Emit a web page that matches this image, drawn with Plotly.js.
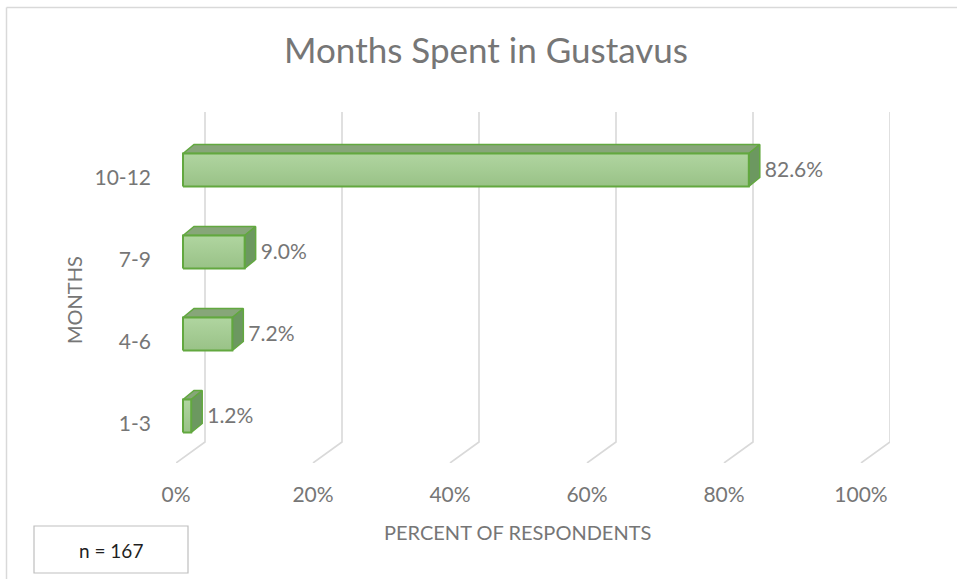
<!DOCTYPE html>
<html>
<head>
<meta charset="utf-8">
<script src="https://cdn.plot.ly/plotly-3.0.1.min.js"></script>
<style>html,body{margin:0;padding:0;background:#fff;}#chart{width:957px;height:579px;}</style>
</head>
<body>
<div id="chart"></div>
<script>
// ---- data ----
const categories = ['1-3', '4-6', '7-9', '10-12'];
const percents = [1.2, 7.2, 9.0, 82.6];
const percentTicks = [0, 20, 40, 60, 80, 100];
const xTitle = 'PERCENT OF RESPONDENTS';
const yTitle = 'MONTHS';
const sampleNote = 'n = 167';

// ---- geometry (pixels -> data units) ----
const W = 957, H = 579;
const L = 176, R = 67, T = 112, B = 116;
const plotW = W - L - R, plotH = H - T - B;
const pxPerX = 6.85;          // front plane: 100% = 685 px
const pxPerY = 82;            // category spacing
const x0px = 183 - L;         // front 0% offset from plot left
const xMin = -x0px / pxPerX, xMax = xMin + plotW / pxPerX;
const yMin = -(H - B - 424) / pxPerY, yMax = 3 + (178 - T) / pxPerY;
const px2x = p => p / pxPerX, px2y = p => p / pxPerY;

const barShift = px2y(8);      // bar centre above label centre
const barHalf = px2y(16.5);
const depthX = px2x(11), depthY = px2y(9);
const wallX = px2x(22);        // back wall offset
const floorY = -(442 - 424) / pxPerY;
const floorFrontX = px2x(-7);

const green = '#62a83f';
const labelGrey = '#767676';
const traces = [];

// gridlines (back wall + floor)
percentTicks.forEach(v => {
  traces.push({
    type: 'scatter', mode: 'lines', hoverinfo: 'skip', showlegend: false,
    x: [v + wallX, v + wallX, v + floorFrontX],
    y: [yMax, floorY, yMin],
    line: {color: '#d9d9d9', width: 1.6}
  });
});

// 3D bars
categories.forEach((c, i) => {
  const v = percents[i];
  const cy = i + barShift;
  const t = cy + barHalf, b = cy - barHalf;
  // top face
  traces.push({
    type: 'scatter', mode: 'lines', fill: 'toself', hoverinfo: 'skip', showlegend: false,
    x: [0, v, v + depthX, depthX, 0], y: [t, t, t + depthY, t + depthY, t],
    fillcolor: '#87a679', line: {color: green, width: 1.5}
  });
  // side face
  traces.push({
    type: 'scatter', mode: 'lines', fill: 'toself', hoverinfo: 'skip', showlegend: false,
    x: [v, v, v + depthX, v + depthX, v], y: [b, t, t + depthY, b + depthY, b],
    fillcolor: '#6c9860', line: {color: green, width: 1.5}
  });
  // front face
  traces.push({
    type: 'scatter', mode: 'lines', fill: 'toself', showlegend: false,
    x: [0, v, v, 0, 0], y: [b, b, t, t, b],
    fillcolor: '#a5cc94',
    fillgradient: {type: 'vertical', colorscale: [[0, '#99c287'], [1, '#b0d5a0']]},
    line: {color: green, width: 2},
    hovertemplate: c + ': %{text}<extra></extra>', text: Array(5).fill(v.toFixed(1) + '%')
  });
});

// data labels
traces.push({
  type: 'scatter', mode: 'text', showlegend: false, hoverinfo: 'skip',
  x: percents.map(v => v + depthX + px2x(5)),
  y: categories.map((c, i) => i + barShift - px2y(2)),
  text: percents.map(v => v.toFixed(1) + '%'),
  textposition: 'middle right',
  textfont: {family: 'Lato, sans-serif', size: 21, color: labelGrey},
  cliponaxis: false
});

// dummy trace for tick-label axis
traces.push({type: 'scatter', x: [0], y: [0], xaxis: 'x2', mode: 'none', hoverinfo: 'skip', showlegend: false});

const fx = p => (p - L) / plotW;
const fy = p => (H - B - p) / plotH;

const layout = {
  width: W, height: H,
  margin: {l: L, r: R, t: T, b: B, pad: 0},
  paper_bgcolor: '#ffffff', plot_bgcolor: 'rgba(0,0,0,0)',
  font: {family: 'Lato, sans-serif', color: labelGrey},
  title: {
    text: 'Months Spent in Gustavus',
    font: {family: 'Lato, sans-serif', size: 35, color: labelGrey},
    x: 486 / W, xref: 'container', xanchor: 'center',
    y: 1 - 51 / H, yref: 'container', yanchor: 'middle'
  },
  xaxis: {
    range: [xMin, xMax], showgrid: false, zeroline: false, showline: false,
    showticklabels: false, ticks: '', fixedrange: true
  },
  xaxis2: {
    overlaying: 'x', side: 'bottom',
    range: [xMin - floorFrontX, xMax - floorFrontX],
    tickvals: percentTicks, ticktext: percentTicks.map(v => v + '%'),
    showgrid: false, zeroline: false, showline: false, ticks: '',
    ticklabelstandoff: 17,
    tickfont: {size: 21, color: labelGrey}, fixedrange: true
  },
  yaxis: {
    range: [yMin, yMax], showgrid: false, zeroline: false, showline: false,
    tickvals: categories.map((c, i) => i), ticktext: categories,
    ticks: '', ticklabelstandoff: 24,
    tickfont: {size: 21, color: labelGrey}, fixedrange: true
  },
  shapes: [
    {type: 'line', xref: 'paper', yref: 'paper', x0: fx(6.5), x1: fx(W), y0: fy(7.5), y1: fy(7.5), line: {color: '#d9d9d9', width: 1.5}},
    {type: 'line', xref: 'paper', yref: 'paper', x0: fx(6.5), x1: fx(6.5), y0: fy(7.5), y1: fy(H), line: {color: '#d9d9d9', width: 1.5}},
    {type: 'rect', xref: 'paper', yref: 'paper', x0: fx(34), x1: fx(188), y0: fy(526), y1: fy(573), line: {color: '#bfbfbf', width: 1.2}, fillcolor: '#ffffff'}
  ],
  annotations: [
    {text: xTitle, xref: 'paper', yref: 'paper', x: fx(517), y: fy(532), xanchor: 'center', yanchor: 'middle', showarrow: false,
     font: {family: 'Lato, sans-serif', size: 20, color: labelGrey}},
    {text: yTitle, xref: 'paper', yref: 'paper', x: fx(74), y: fy(300), xanchor: 'center', yanchor: 'middle', textangle: -90, showarrow: false,
     font: {family: 'Lato, sans-serif', size: 20, color: labelGrey}},
    {text: sampleNote, xref: 'paper', yref: 'paper', x: fx(111), y: fy(550), xanchor: 'center', yanchor: 'middle', showarrow: false,
     font: {family: 'Lato, sans-serif', size: 19, color: '#1f1f1f'}}
  ]
};

Plotly.newPlot('chart', traces, layout, {displayModeBar: false});
</script>
</body>
</html>
